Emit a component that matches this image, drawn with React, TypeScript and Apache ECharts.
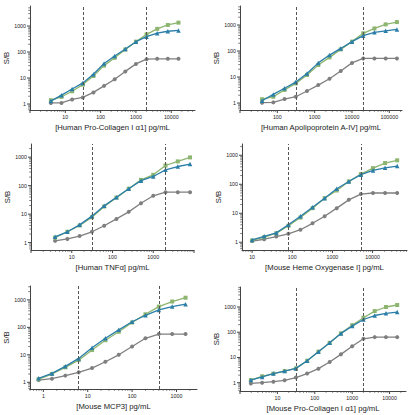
import React, { useEffect, useRef } from 'react';
import * as echarts from 'echarts';

// ---- data (concentrations pg/mL, S/B values) ----
const p1X = [3.9, 7.8, 15.6, 31.25, 62.5, 125, 250, 500, 1000, 2000, 4000, 8000, 16000];
const p1Green = [1.4, 1.9, 3.1, 5.6, 12, 30, 60, 125, 250, 480, 780, 1100, 1350];
const p1Blue = [1.3, 2.2, 3.8, 6.5, 14, 36, 70, 130, 250, 390, 530, 630, 680];
const p1Gray = [1.1, 1.1, 1.5, 1.8, 2.8, 5, 9, 18, 35, 53, 55, 55, 55];
const p1Cut = [31.25, 2000];

const p2X = [39, 78, 156, 312, 625, 1250, 2500, 5000, 10000, 20000, 40000, 80000, 160000];
const p2Green = [1.4, 1.75, 3.2, 5.7, 12, 29, 57, 116, 230, 480, 740, 1060, 1300];
const p2Blue = [1.23, 2.15, 3.7, 6.4, 13.8, 35, 70, 126, 230, 390, 525, 600, 680];
const p2Gray = [1.03, 1.06, 1.42, 1.75, 2.9, 4.9, 8.6, 17, 35, 52, 52, 52, 52];
const p2Cut = [312, 20000];

const p3X = [3.9, 7.8, 15.6, 31.25, 62.5, 125, 250, 500, 1000, 2000, 4000, 8000];
const p3Green = [1.5, 2.4, 4, 7.8, 18.5, 38, 78, 160, 240, 510, 710, 980];
const p3Blue = [1.6, 2.4, 4.2, 8.5, 19.5, 39, 78, 150, 210, 360, 470, 570];
const p3Gray = [1.15, 1.35, 1.7, 2.4, 3.9, 6.8, 12, 24, 44, 59, 59, 59];
const p3Cut = [31.25, 2000];

const p4X = [10, 20, 40, 80, 160, 320, 640, 1280, 2560, 5120, 10240, 20480, 40960];
const p4Green = [1.15, 1.5, 2.05, 3.7, 7.1, 15, 33, 61, 125, 225, 360, 540, 670];
const p4Blue = [1.2, 1.6, 2.1, 4, 7.9, 16, 33, 70, 125, 215, 300, 370, 425];
const p4Gray = [1.1, 1.27, 1.57, 1.95, 2.7, 4.5, 7.9, 15, 29, 46, 50, 50, 50];
const p4Cut = [80, 5120];

const p5X = [0.78, 1.56, 3.125, 6.25, 12.5, 25, 50, 100, 200, 400, 800, 1600];
const p5Green = [1.3, 2, 3.5, 6.4, 14.9, 34, 69, 150, 300, 570, 870, 1200];
const p5Blue = [1.4, 2.1, 3.8, 7.4, 18, 40, 81, 160, 275, 430, 570, 700];
const p5Gray = [1.2, 1.35, 1.75, 2.3, 3.3, 5.6, 10, 20, 40, 57, 57, 57];
const p5Cut = [6.25, 400];

const p6X = [1.95, 3.9, 7.8, 15.6, 31.25, 62.5, 125, 250, 500, 1000, 2000, 4000, 8000, 16000];
const p6Green = [1.27, 1.8, 2.3, 2.9, 3.7, 7.4, 17, 38, 90, 190, 375, 690, 1000, 1200];
const p6Blue = [1.27, 1.7, 2.3, 2.9, 3.7, 7.4, 17, 38, 90, 175, 320, 460, 560, 630];
const p6Gray = [0.94, 1, 1.1, 1.25, 1.6, 2.3, 3.6, 6.6, 13.3, 28, 55, 64, 64, 64];
const p6Cut = [31.25, 2000];

const titles = [
  '[Human Pro-Collagen I α1] pg/mL',
  '[Human Apolipoprotein A-IV] pg/mL',
  '[Human TNFα] pg/mL',
  '[Mouse Heme Oxygenase I] pg/mL',
  '[Mouse MCP3] pg/mL',
  '[Mouse Pro-Collagen I α1] pg/mL',
];

const panels = [
  { x: p1X, green: p1Green, blue: p1Blue, gray: p1Gray, cut: p1Cut, left: 30, top: 6, width: 165, height: 104, xMin: 1, xMax: 47000, yMin: 0.59, yMax: 5900 },
  { x: p2X, green: p2Green, blue: p2Blue, gray: p2Gray, cut: p2Cut, left: 240, top: 6, width: 162, height: 104, xMin: 10, xMax: 219000, yMin: 0.54, yMax: 5400 },
  { x: p3X, green: p3Green, blue: p3Blue, gray: p3Gray, cut: p3Cut, left: 31, top: 144, width: 163, height: 106, xMin: 1, xMax: 10000, yMin: 0.55, yMax: 2900 },
  { x: p4X, green: p4Green, blue: p4Blue, gray: p4Gray, cut: p4Cut, left: 242, top: 144, width: 165, height: 106, xMin: 5.6, xMax: 72000, yMin: 0.54, yMax: 2450 },
  { x: p5X, green: p5Green, blue: p5Blue, gray: p5Gray, cut: p5Cut, left: 30, top: 286, width: 167, height: 103, xMin: 0.5, xMax: 2900, yMin: 0.57, yMax: 3200 },
  { x: p6X, green: p6Green, blue: p6Blue, gray: p6Gray, cut: p6Cut, left: 240, top: 287, width: 166, height: 104, xMin: 1, xMax: 27500, yMin: 0.47, yMax: 6200 },
];

const GREEN = '#8db56f';
const BLUE = '#2a7ea8';
const GRAY = '#7f7f7f';
const AXIS = '#444';
const TEXT = '#222';
const FONT = 'Liberation Sans, Arial, sans-serif';

function tickValues(min: number, max: number) {
  const out: number[][] = [];
  for (let k = Math.floor(Math.log10(min)); k <= Math.ceil(Math.log10(max)); k++) {
    for (let m = 1; m <= 9; m++) {
      const v = m * Math.pow(10, k);
      if (v >= min * 0.9999 && v <= max * 1.0001) out.push([v, m === 1 ? 1 : 0]);
    }
  }
  return out;
}

const fmt = (v: number) => String(+v.toPrecision(6));

export default function App() {
  const ref = useRef<HTMLDivElement>(null);
  useEffect(() => {
    if (!ref.current) return;
    const chart = echarts.init(ref.current, undefined, { renderer: 'svg' });
    const grid: any[] = [];
    const xAxis: any[] = [];
    const yAxis: any[] = [];
    const series: any[] = [];
    panels.forEach((p, i) => {
      grid.push({ left: p.left, top: p.top, width: p.width, height: p.height, containLabel: false });
      xAxis.push({
        type: 'log', logBase: 10, gridIndex: i, min: p.xMin, max: p.xMax,
        name: titles[i], nameLocation: 'middle', nameGap: 13,
        nameTextStyle: { fontSize: 7.7, color: TEXT, fontFamily: FONT },
        axisLine: { lineStyle: { color: AXIS, width: 1 } },
        axisTick: { show: false },
        splitLine: { show: false },
        axisLabel: { fontSize: 5.3, color: TEXT, fontFamily: FONT, margin: 4, showMinLabel: false, showMaxLabel: false, formatter: fmt },
      });
      yAxis.push({
        type: 'log', logBase: 10, gridIndex: i, min: p.yMin, max: p.yMax,
        name: 'S/B', nameLocation: 'middle', nameGap: 14, nameRotate: 90,
        nameTextStyle: { fontSize: 7.7, color: TEXT, fontFamily: FONT },
        axisLine: { lineStyle: { color: AXIS, width: 1 } },
        axisTick: { show: false },
        splitLine: { show: false },
        axisLabel: { fontSize: 5.3, color: TEXT, fontFamily: FONT, margin: 4, showMinLabel: false, showMaxLabel: false, formatter: fmt },
      });
      const mk = (vals: number[], color: string, symbol: string, size: number, z: number) => ({
        type: 'line', xAxisIndex: i, yAxisIndex: i, z,
        data: p.x.map((xv, j) => [xv, vals[j]]),
        symbol, symbolSize: size, showSymbol: true,
        lineStyle: { color, width: 1.3 },
        itemStyle: { color },
        silent: true,
      });
      const gs: any = mk(p.gray, GRAY, 'circle', 4, 2);
      gs.markLine = {
        silent: true, symbol: ['none', 'none'], label: { show: false },
        lineStyle: { type: [3, 2], color: '#555', width: 1 },
        data: p.cut.map((v) => ({ xAxis: v })),
      };
      series.push(gs);
      series.push(mk(p.green, GREEN, 'rect', 4, 3));
      series.push(mk(p.blue, BLUE, 'triangle', 4.5, 4));
      const tdata: number[][] = [];
      tickValues(p.xMin, p.xMax).forEach(([v, maj]) => tdata.push([v, p.yMin, maj, 0]));
      tickValues(p.yMin, p.yMax).forEach(([v, maj]) => tdata.push([p.xMin, v, maj, 1]));
      series.push({
        type: 'custom', xAxisIndex: i, yAxisIndex: i, silent: true, clip: false, z: 1,
        data: tdata,
        renderItem: (params: any, api: any) => {
          const pt = api.coord([api.value(0), api.value(1)]);
          const maj = api.value(2) === 1;
          const len = maj ? 3 : 1.8;
          const isY = api.value(3) === 1;
          return {
            type: 'line',
            shape: isY
              ? { x1: pt[0] - len, y1: pt[1], x2: pt[0], y2: pt[1] }
              : { x1: pt[0], y1: pt[1], x2: pt[0], y2: pt[1] + len },
            style: { stroke: AXIS, lineWidth: maj ? 1 : 0.7 },
          };
        },
      });
    });
    chart.setOption({
      animation: false,
      backgroundColor: '#fff',
      textStyle: { fontFamily: FONT },
      grid, xAxis, yAxis, series,
    });
    return () => chart.dispose();
  }, []);
  return <div ref={ref} style={{ position: 'fixed', left: 0, top: 0, width: 419, height: 415 }} />;
}
